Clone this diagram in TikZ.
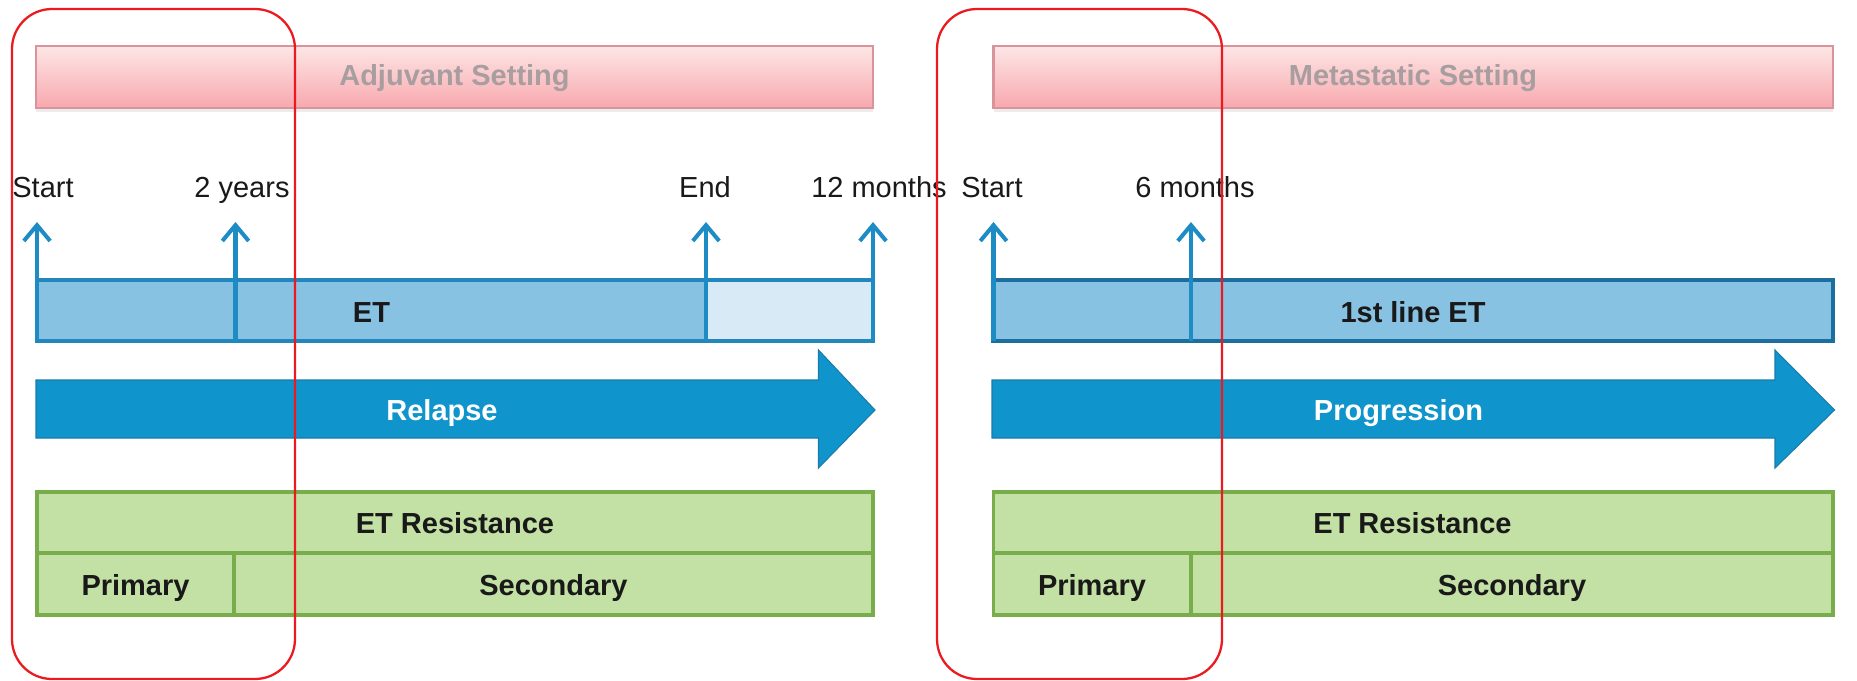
\documentclass[tikz,border=0pt]{standalone}
\usepackage{fontspec}
\setmainfont{Liberation Sans}
\usetikzlibrary{arrows.meta,positioning,shadows}
\definecolor{tickblue}{HTML}{1E8CC4}
\definecolor{etfill}{HTML}{88C2E3}
\definecolor{etpale}{HTML}{D8EAF6}
\definecolor{etborder}{HTML}{2187BC}
\definecolor{etborderdark}{HTML}{1C6E9E}
\definecolor{flowblue}{HTML}{0F94CB}
\definecolor{flowedge}{HTML}{1B7BAC}
\definecolor{resfill}{HTML}{C3E0A5}
\definecolor{resedge}{HTML}{79AC4B}
\definecolor{settop}{HTML}{FDE6E6}
\definecolor{setbottom}{HTML}{F8A8AE}
\definecolor{setedge}{HTML}{D9939A}
\definecolor{settext}{HTML}{A89EA0}
\definecolor{markred}{HTML}{EC1A1F}
\tikzset{
	txt/.style={font=\fontsize{16.5}{19}\selectfont, text=black!90, anchor=base, inner sep=0},
	boldtxt/.style={txt, font=\fontsize{16.5}{19}\selectfont\bfseries},
	settingbox/.style={draw=setedge, line width=1.2pt, top color=settop, bottom color=setbottom,
		drop shadow={opacity=0.15, shadow xshift=0pt, shadow yshift=-2pt}},
	settinglabel/.style={boldtxt, text=settext},
	etbar/.style={draw=etborder, line width=2.3pt},
	etbardark/.style={draw=etborderdark, line width=2.8pt},
	tick/.style={draw=tickblue, line width=2.3pt, -{Straight Barb[length=9pt,width=15pt]}},
	flow/.style={fill=flowblue, draw=flowedge, line width=0.6pt},
	flowlabel/.style={boldtxt, text=white},
	resbox/.style={fill=resfill, draw=resedge, line width=2pt},
	focus/.style={draw=markred, line width=1.3pt, rounded corners=0.8cm}
}
\begin{document}
\begin{tikzpicture}[x=0.02cm,y=-0.02cm]
	\useasboundingbox[fill=white] (0,0) rectangle (1857,680);
	
	%%%% adjuvant side
	\draw[settingbox] (36,46) rectangle (873,108);
	\node[settinglabel] (adj) at (454.5,85) {Adjuvant Setting};
	
	\fill[etfill] (37,280) rectangle (706,341);
	\fill[etpale] (706,280) rectangle (873,341);
	\draw[etbar] (37,280) rectangle (873,341);
	\node[boldtxt] (et) at (371.5,322) {ET};
	
	\coordinate (a1) at (37,341);    \coordinate (a1top) at (37,222);
	\coordinate (a2) at (235.5,341); \coordinate (a2top) at (235.5,222);
	\coordinate (a3) at (706,341);   \coordinate (a3top) at (706,222);
	\coordinate (a4) at (873,341);   \coordinate (a4top) at (873,222);
	\draw[tick] (a1) -- (a1top);
	\draw[tick] (a2) -- (a2top);
	\draw[tick] (a3) -- (a3top);
	\draw[tick] (a4) -- (a4top);
	\node[txt] (startA) at (43,197) {Start};
	\node[txt] (twoyears) at (242,197) {2 years};
	\node[txt] (endA) at (705,197) {End};
	\node[txt] (twelvemonths) at (879,197) {12 months};
	
	\draw[flow] (36,380) -- (818.5,380) -- (818.5,350) -- (875,410) -- (818.5,468) -- (818.5,438) -- (36,438) -- cycle;
	\node[flowlabel] (relapse) at (442,420) {Relapse};
	
	\draw[resbox] (37,492) rectangle (873,615);
	\draw[resbox] (37,553) -- (873,553) (234,553) -- (234,615);
	\node[boldtxt] (resA) at (455,533) {ET Resistance};
	\node[boldtxt] (primA) at (135.5,595) {Primary};
	\node[boldtxt] (secA) at (553.5,595) {Secondary};
	
	%%%% metastatic side
	\draw[settingbox] (993.5,46) rectangle (1833,108);
	\node[settinglabel] (meta) at (1413,85) {Metastatic Setting};
	
	\fill[etfill] (993.5,280) rectangle (1833,341);
	\draw[etbardark] (993.5,280) rectangle (1833,341);
	\node[boldtxt] (firstline) at (1413,322) {1st line ET};
	
	\coordinate (b1) at (993.5,341); \coordinate (b1top) at (993.5,222);
	\coordinate (b2) at (1191,341);  \coordinate (b2top) at (1191,222);
	\draw[tick] (b1) -- (b1top);
	\draw[tick] (b2) -- (b2top);
	\node[txt] (startB) at (992,197) {Start};
	\node[txt] (sixmonths) at (1195,197) {6 months};
	
	\draw[flow] (992,380) -- (1775,380) -- (1775,350) -- (1834.5,410) -- (1775,468) -- (1775,438) -- (992,438) -- cycle;
	\node[flowlabel] (progression) at (1398.5,420) {Progression};
	
	\draw[resbox] (993.5,492) rectangle (1833,615);
	\draw[resbox] (993.5,553) -- (1833,553) (1191,553) -- (1191,615);
	\node[boldtxt] (resB) at (1412.5,533) {ET Resistance};
	\node[boldtxt] (primB) at (1092,595) {Primary};
	\node[boldtxt] (secB) at (1512,595) {Secondary};
	
	%%%% red frames on top
	\draw[focus] (12,9) rectangle (295,679);
	\draw[focus] (937,9) rectangle (1222,679);
\end{tikzpicture}
\end{document}
